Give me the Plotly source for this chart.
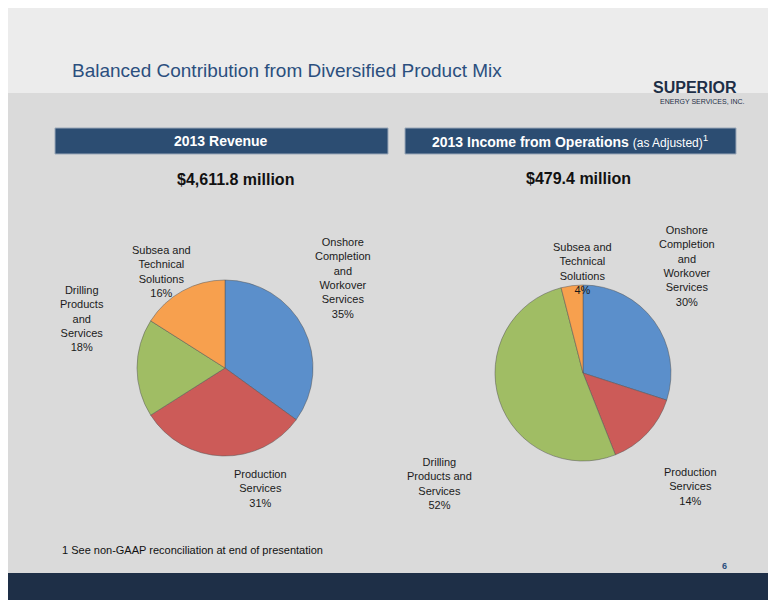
import plotly.graph_objects as go

W, H = 776, 600

rev_labels = ["Onshore<br>Completion<br>and<br>Workover<br>Services<br>35%", "Production<br>Services<br>31%",
              "Drilling<br>Products<br>and<br>Services<br>18%", "Subsea and<br>Technical<br>Solutions<br>16%"]
rev_values = [35, 31, 18, 16]
inc_labels = ["Onshore<br>Completion<br>and<br>Workover<br>Services<br>30%", "Production<br>Services<br>14%",
              "Drilling<br>Products and<br>Services<br>52%", "Subsea and<br>Technical<br>Solutions<br>4%"]
inc_values = [30, 14, 52, 4]
colors = ["#5b8fcb", "#cc5b58", "#a0bd64", "#f7a04e"]


def px(x):
    return x / W


def py(y):
    return 1 - y / H


fig = go.Figure()

for vals, cx, cy in [(rev_values, 217, 360), (inc_values, 575, 365)]:
    r = 88
    fig.add_trace(go.Pie(
        values=vals, marker=dict(colors=colors, line=dict(color="#555", width=0.5)),
        sort=False, direction="clockwise", rotation=0, textinfo="none",
        hoverinfo="value", showlegend=False,
        domain=dict(x=[px(cx - r), px(cx + r)], y=[py(cy + r), py(cy - r)]),
    ))

shapes = [
    dict(type="rect", xref="paper", yref="paper", x0=0, x1=1, y0=py(600), y1=py(85),
         fillcolor="#dadada", line=dict(width=0), layer="below"),
    dict(type="rect", xref="paper", yref="paper", x0=0, x1=1, y0=py(592), y1=py(565),
         fillcolor="#1e2f47", line=dict(width=0), layer="below"),
    dict(type="rect", xref="paper", yref="paper", x0=px(47), x1=px(380), y0=py(146), y1=py(120),
         fillcolor="#2c4d72", line=dict(color="#9aa8b8", width=1), layer="below"),
    dict(type="rect", xref="paper", yref="paper", x0=px(397), x1=px(728), y0=py(146), y1=py(120),
         fillcolor="#2c4d72", line=dict(color="#9aa8b8", width=1), layer="below"),
]

lab_font = dict(family="Liberation Sans", size=11, color="#1a1a1a")
ann = [
    dict(text="Balanced Contribution from Diversified Product Mix", x=px(62), y=py(63),
         font=dict(family="Liberation Sans", size=19, color="#2b4f7e")),
    dict(text="<b>SUPERIOR</b>", x=px(643), y=py(80), font=dict(family="Liberation Sans", size=16, color="#1e2f47")),
    dict(text="ENERGY SERVICES, INC.", x=px(650), y=py(93), font=dict(family="Liberation Sans", size=7, color="#1e2f47")),
    dict(text="<b>2013 Revenue</b>", x=px(213), y=py(133), xanchor="center",
         font=dict(family="Liberation Sans", size=14, color="white")),
    dict(text="<b>2013 Income from Operations</b> <span style='font-size:12px'>(as Adjusted)</span><sup>1</sup>",
         x=px(562), y=py(133), xanchor="center", font=dict(family="Liberation Sans", size=14, color="white")),
    dict(text="<b>$4,611.8 million</b>", x=px(227), y=py(172), xanchor="center",
         font=dict(family="Liberation Sans", size=16, color="#111")),
    dict(text="<b>$479.4 million</b>", x=px(570), y=py(170), xanchor="center",
         font=dict(family="Liberation Sans", size=16, color="#111")),
    dict(text="1 See non-GAAP reconciliation at end of presentation", x=px(52), y=py(542),
         font=dict(family="Liberation Sans", size=11, color="#111")),
    dict(text="<b>6</b>", x=px(712), y=py(558), font=dict(family="Liberation Sans", size=9, color="#2b4f7e")),
]
for a in ann:
    a.update(xref="paper", yref="paper", showarrow=False, yanchor="middle", xanchor=a.get("xanchor", "left"))

label_pos = [
    (rev_labels[0], 335, 270), (rev_labels[1], 252, 480), (rev_labels[2], 74, 310), (rev_labels[3], 153, 264),
    (inc_labels[0], 679, 258), (inc_labels[1], 682, 478), (inc_labels[2], 431, 475), (inc_labels[3], 574, 260),
]
for t, x, y in label_pos:
    ann.append(dict(text=t, x=px(x), y=py(y), xref="paper", yref="paper", showarrow=False,
                    xanchor="center", yanchor="middle", font=lab_font))

fig.update_layout(width=W, height=H, margin=dict(l=0, r=0, t=0, b=0),
                  paper_bgcolor="#ececec", shapes=shapes, annotations=ann)
fig.write_html("out.html")
